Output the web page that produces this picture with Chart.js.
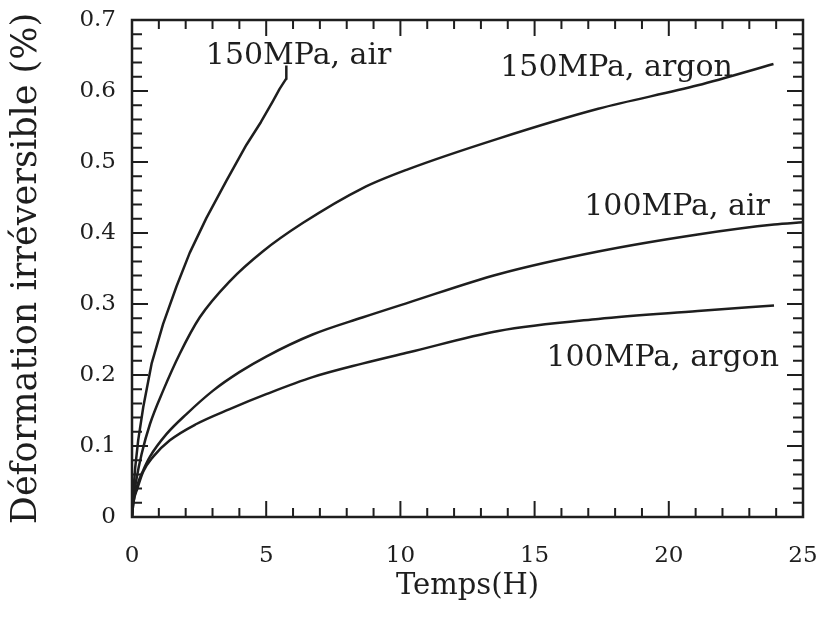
<!DOCTYPE html>
<html>
<head>
<meta charset="utf-8">
<script src="https://cdn.jsdelivr.net/npm/chart.js@4.4.1/dist/chart.umd.min.js"></script>
<style>
  html, body { margin: 0; padding: 0; background: #fff; }
</style>
</head>
<body>
<canvas id="chart" width="818" height="617"></canvas>
<script>
// time (hours) and irreversible strain (%)
const air150X = [0, 0.05, 0.12, 0.23, 0.42, 0.73, 1.16, 1.66, 2.15, 2.77, 3.51, 4.26, 4.8, 5.24, 5.5, 5.74, 5.75];
const air150Y = [0, 0.035, 0.07, 0.108, 0.155, 0.216, 0.272, 0.325, 0.372, 0.421, 0.473, 0.524, 0.556, 0.585, 0.603, 0.617, 0.636];

const argon150X = [0, 0.05, 0.15, 0.36, 0.67, 1.16, 1.78, 2.52, 3.64, 4.87, 6.36, 8.58, 10.3, 13.65, 17.37, 21.08, 23.9];
const argon150Y = [0, 0.025, 0.05, 0.089, 0.131, 0.178, 0.23, 0.281, 0.332, 0.374, 0.414, 0.463, 0.49, 0.533, 0.575, 0.608, 0.638];

const air100X = [0, 0.05, 0.2, 0.42, 0.67, 1.29, 2.03, 3.02, 4.0, 5.0, 6.73, 8.58, 10.3, 13.65, 17.37, 21.08, 23.92, 25];
const air100Y = [0, 0.02, 0.045, 0.066, 0.085, 0.117, 0.145, 0.178, 0.204, 0.226, 0.257, 0.281, 0.302, 0.342, 0.374, 0.398, 0.412, 0.415];

const argon100X = [0, 0.05, 0.2, 0.42, 0.79, 1.41, 2.4, 3.64, 5.0, 6.73, 8.58, 10.32, 13.65, 17.37, 21.08, 23.92];
const argon100Y = [0, 0.02, 0.04, 0.064, 0.085, 0.108, 0.131, 0.152, 0.173, 0.197, 0.216, 0.232, 0.262, 0.279, 0.29, 0.298];

const curveLabels = ["150MPa, air", "150MPa, argon", "100MPa, air", "100MPa, argon"];
// where each label starts (left edge, baseline) in data units
const labelX = [2.75, 13.72, 16.85, 15.44];
const labelY = [0.638, 0.621, 0.425, 0.213];

const FONT = "'DejaVu Serif', serif";
const INK = "#1e1e1e";

const toPoints = (xs, ys) => xs.map((x, i) => ({ x: x, y: ys[i] }));

const series = [
  toPoints(air150X, air150Y),
  toPoints(argon150X, argon150Y),
  toPoints(air100X, air100Y),
  toPoints(argon100X, argon100Y),
];

// frame, inward ticks on all four sides, and the curve labels
const framePlugin = {
  id: "frame",
  afterDraw(chart) {
    const { ctx, chartArea: a, scales } = chart;
    const xs = scales.x, ys = scales.y;
    ctx.save();
    ctx.strokeStyle = INK;
    ctx.lineWidth = 2.5;
    ctx.strokeRect(a.left, a.top, a.right - a.left, a.bottom - a.top);

    ctx.lineWidth = 2;
    ctx.beginPath();
    for (let i = 0; i <= 25; i++) {
      const px = xs.getPixelForValue(i);
      const len = i % 5 === 0 ? 16 : 9;
      ctx.moveTo(px, a.bottom);
      ctx.lineTo(px, a.bottom - len);
      ctx.moveTo(px, a.top);
      ctx.lineTo(px, a.top + len);
    }
    for (let i = 0; i <= 35; i++) {
      const py = ys.getPixelForValue(i * 0.02);
      const len = i % 5 === 0 ? 16 : 10;
      ctx.moveTo(a.left, py);
      ctx.lineTo(a.left + len, py);
      ctx.moveTo(a.right, py);
      ctx.lineTo(a.right - len, py);
    }
    ctx.stroke();

    ctx.fillStyle = INK;
    ctx.font = "30px " + FONT;
    ctx.textAlign = "left";
    ctx.textBaseline = "alphabetic";
    curveLabels.forEach((t, i) => {
      ctx.fillText(t, xs.getPixelForValue(labelX[i]), ys.getPixelForValue(labelY[i]));
    });
    ctx.restore();
  },
};

new Chart(document.getElementById("chart"), {
  type: "line",
  data: {
    datasets: series.map((pts, i) => ({
      label: curveLabels[i],
      data: pts,
      borderColor: INK,
      borderWidth: 2.5,
      borderJoinStyle: "round",
      pointRadius: 0,
      fill: false,
      // the air curve at 150MPa ends with a vertical jump, keep it straight there
      cubicInterpolationMode: i === 0 ? "default" : "monotone",
      tension: 0,
    })),
  },
  options: {
    responsive: false,
    animation: false,
    layout: { padding: { top: 20, right: 15, left: 0, bottom: 0 } },
    plugins: {
      legend: { display: false },
      tooltip: { enabled: false },
    },
    scales: {
      x: {
        type: "linear",
        min: 0,
        max: 25,
        grid: { display: false, drawTicks: false },
        border: { display: false },
        ticks: {
          stepSize: 5,
          padding: 25,
          color: INK,
          maxRotation: 0,
          font: { family: FONT, size: 23 },
        },
        title: {
          display: true,
          text: "Temps(H)",
          color: INK,
          font: { family: FONT, size: 29 },
          padding: { top: 0, bottom: 13 },
        },
        afterFit: (s) => {
          s.height = 100;
          s.paddingLeft = 0;
          s.paddingRight = 0;
        },
      },
      y: {
        type: "linear",
        min: 0,
        max: 0.7,
        grid: { display: false, drawTicks: false },
        border: { display: false },
        ticks: {
          stepSize: 0.1,
          padding: 16,
          color: INK,
          font: { family: FONT, size: 23 },
        },
        title: {
          display: true,
          text: "Déformation irréversible (%)",
          color: INK,
          font: { family: FONT, size: 35 },
          padding: { top: 6, bottom: 0 },
        },
        afterFit: (s) => {
          s.width = 132;
          s.paddingTop = 0;
          s.paddingBottom = 0;
        },
      },
    },
  },
  plugins: [framePlugin],
});
</script>
</body>
</html>
